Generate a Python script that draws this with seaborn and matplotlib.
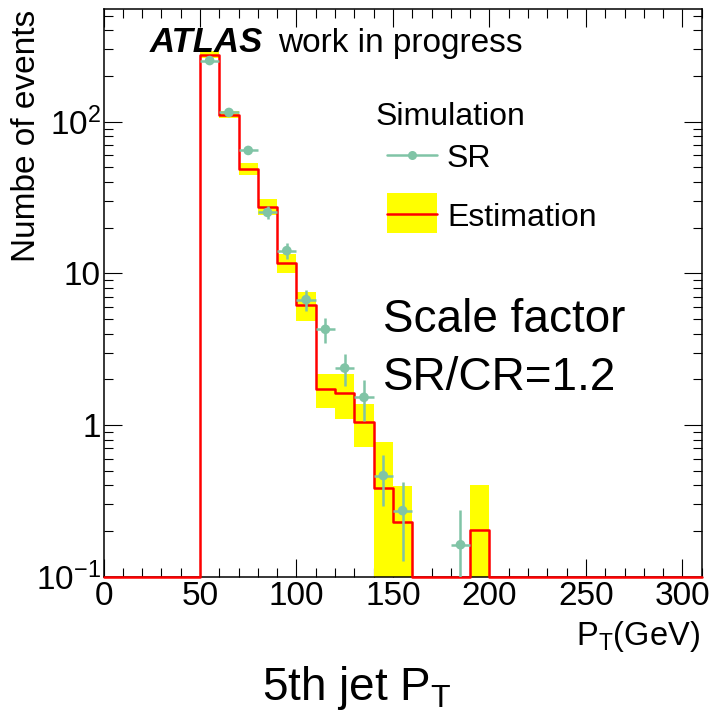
import numpy as np
import pandas as pd
import matplotlib
matplotlib.use("Agg")
import matplotlib.pyplot as plt
from matplotlib.ticker import FixedLocator, FixedFormatter, MultipleLocator, LogLocator, NullFormatter
from matplotlib.lines import Line2D
from matplotlib.patches import Rectangle
import seaborn as sns

# ---------------- data ----------------
# Estimation histogram (bins of 10 GeV, 50-200 GeV)
est_lo_edge = [50, 60, 70, 80, 90, 100, 110, 120, 130, 140, 150, 160, 170, 180, 190]
est_vals = [277, 111, 49, 27.5, 11.7, 6.2, 1.73, 1.63, 1.05, 0.384, 0.229, 0, 0, 0, 0.203]
est_err = [14, 6, 4.4, 3.4, 1.7, 1.37, 0.43, 0.53, 0.33, 0.39, 0.165, 0, 0, 0, 0.2]

# SR points (bin centres)
sr_x = [55, 65, 75, 85, 95, 105, 115, 125, 135, 145, 155, 185]
sr_vals = [253, 115, 64.6, 25.2, 14.1, 6.7, 4.27, 2.37, 1.52, 0.463, 0.272, 0.162]
sr_err = [8, 5, 3.5, 2.4, 1.7, 1.1, 0.78, 0.57, 0.46, 0.17, 0.145, 0.113]

ytick_vals = [0.1, 1, 10, 100]
ytick_labels = ["$10^{-1}$", "1", "10", "$10^{2}$"]

# ---------------- style ----------------
sns.set_theme(style="ticks")
plt.rcParams["font.family"] = ["Liberation Sans", "DejaVu Sans"]
plt.rcParams["mathtext.fontset"] = "custom"
plt.rcParams["mathtext.rm"] = "Liberation Sans"
plt.rcParams["mathtext.it"] = "Liberation Sans:italic"
plt.rcParams["mathtext.bf"] = "Liberation Sans:bold"
plt.rcParams["text.color"] = "black"
plt.rcParams["xtick.color"] = "black"
plt.rcParams["ytick.color"] = "black"
plt.rcParams["xtick.labelcolor"] = "black"
plt.rcParams["ytick.labelcolor"] = "black"

W, H = 713, 712
fig = plt.figure(figsize=(W / 100, H / 100), dpi=100)
fig.patch.set_facecolor("white")

def fx(px):
    return px / W

def fy(py):
    return 1 - py / H

ax_l, ax_r, ax_t, ax_b = 103.5, 701.7, 9.3, 576.5
ax = fig.add_axes([fx(ax_l), fy(ax_b), (ax_r - ax_l) / W, (ax_b - ax_t) / H])
ax.set_facecolor("white")

xmax = 310
ymin, ymax = 0.1, 551
green = "#80c4a6"

# full histogram range 0-310
centers = np.arange(5, xmax, 10)
full_vals = np.zeros(len(centers))
for lo, v in zip(est_lo_edge, est_vals):
    full_vals[int(lo // 10)] = v
hist_df = pd.DataFrame({"pt": centers.astype(float), "w": np.maximum(full_vals, ymin)})

# yellow band
est_c = np.array(est_lo_edge) + 5
ev = np.array(est_vals, dtype=float)
ee = np.array(est_err, dtype=float)
mask = ev > 0
band_lo = np.clip(ev - ee, 0.05, None)
band_hi = ev + ee
ax.bar(est_c[mask], (band_hi - band_lo)[mask], bottom=band_lo[mask], width=10,
       color="#ffff00", linewidth=0, zorder=1)

# red estimation histogram
n_before = len(ax.lines)
sns.histplot(data=hist_df, x="pt", weights="w", binwidth=10, binrange=(0, xmax),
             element="step", fill=False, color="#ff0000", linewidth=1.8, ax=ax)
for ln in ax.lines[n_before:]:
    ln.set_clip_on(False)
    ln.set_zorder(3)

# SR points
ax.errorbar(sr_x, sr_vals, xerr=5, yerr=sr_err, fmt="none", ecolor=green,
            elinewidth=1.8, capsize=0, zorder=4)
sns.scatterplot(x=sr_x, y=sr_vals, color=green, s=48, edgecolor="none", ax=ax, zorder=5)

ax.set_yscale("log")
ax.set_xlim(0, xmax)
ax.set_ylim(ymin, ymax)
ax.set_xlabel("")
ax.set_ylabel("")

ax.xaxis.set_major_locator(MultipleLocator(50))
ax.xaxis.set_minor_locator(MultipleLocator(10))
ax.yaxis.set_major_locator(FixedLocator(ytick_vals))
ax.yaxis.set_major_formatter(FixedFormatter(ytick_labels))
ax.yaxis.set_minor_locator(LogLocator(base=10, subs=np.arange(2, 10)))
ax.yaxis.set_minor_formatter(NullFormatter())

ax.tick_params(which="both", direction="in", top=True, right=True, width=0.8,
               color="black", labelcolor="black")
ax.tick_params(which="major", length=13)
ax.tick_params(which="minor", length=6.5)
ax.tick_params(axis="x", which="major", labelsize=24, pad=3)
ax.tick_params(axis="y", which="major", labelsize=24, pad=2)
for s in ax.spines.values():
    s.set_linewidth(1.1)
    s.set_color("black")
    s.set_visible(True)

# texts
fig.text(fx(150), fy(51.7), "ATLAS", fontsize=25, fontweight="bold", fontstyle="italic",
         ha="left", va="baseline", color="black")
fig.text(fx(278), fy(51.7), "work in progress", fontsize=24, ha="left", va="baseline",
         color="black")

fig.text(fx(376), fy(125), "Simulation", fontsize=23, ha="left", va="baseline", color="black")
fig.add_artist(Line2D([fx(387), fx(437)], [fy(155), fy(155)], color=green, lw=1.8,
                      transform=fig.transFigure))
fig.add_artist(Line2D([fx(412)], [fy(155)], color=green, marker="o", ms=6.5, mec="none",
                      lw=0, transform=fig.transFigure))
fig.text(fx(447), fy(167), "SR", fontsize=23, ha="left", va="baseline", color="black")
fig.add_artist(Rectangle((fx(387), fy(233.3)), fx(50), (233.3 - 193.3) / H,
                         facecolor="#ffff00", edgecolor="none", transform=fig.transFigure))
fig.add_artist(Line2D([fx(387), fx(437)], [fy(213.7), fy(213.7)], color="#ff0000", lw=1.8,
                      transform=fig.transFigure))
fig.text(fx(447), fy(225.7), "Estimation", fontsize=23, ha="left", va="baseline", color="black")

fig.text(fx(383), fy(332), "Scale factor", fontsize=33, ha="left", va="baseline", color="black")
fig.text(fx(383), fy(390), "SR/CR=1.2", fontsize=33, ha="left", va="baseline", color="black")

fig.text(fx(700), fy(645), "P$_{\\mathrm{T}}$(GeV)", fontsize=23.5, ha="right", va="baseline",
         color="black")
fig.text(fx(11), fy(10), "Numbe of events", fontsize=24, rotation=90, ha="left", va="top",
         color="black")
fig.text(0.5, fy(700), "5th jet P$_{\\mathrm{T}}$", fontsize=33, ha="center", va="baseline",
         color="black")

fig.savefig("out.png", dpi=100, facecolor="white")
